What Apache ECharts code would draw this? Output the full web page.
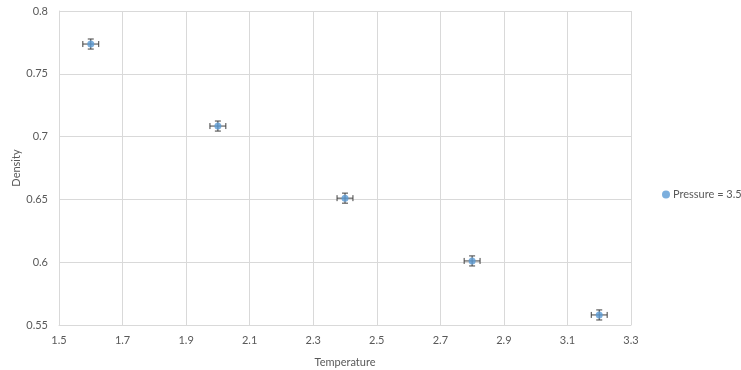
<!DOCTYPE html>
<html><head><meta charset="utf-8">
<script src="https://cdn.jsdelivr.net/npm/echarts@6/dist/echarts.min.js"></script>
<style>html,body{margin:0;padding:0;background:#fff}#c{width:741px;height:370px}</style>
</head><body><div id="c"></div>
<script>
const temperature = [1.6, 2.0, 2.4, 2.8, 3.2];
const density = [0.7737, 0.7084, 0.651, 0.601, 0.558];
const xErr = [0.025, 0.025, 0.025, 0.025, 0.025];
const yErr = [0.004, 0.004, 0.004, 0.004, 0.004];
const seriesName = 'Pressure = 3.5';

const FONT = 'Lato';
const chart = echarts.init(document.getElementById('c'));
const pts = temperature.map((t, i) => [t, density[i], xErr[i], yErr[i]]);
chart.setOption({
  animation: false,
  textStyle: { fontFamily: FONT },
  grid: { left: 59, right: 110, top: 11, bottom: 45, outerBoundsMode: 'none', containLabel: false },
  legend: {
    data: [{ name: seriesName, icon: 'circle' }],
    left: 657, top: 184, orient: 'vertical',
    itemWidth: 8, itemHeight: 8, itemGap: 4,
    textStyle: { fontFamily: FONT, fontSize: 11, color: '#595959', padding: [0, 0, 0, -2] }
  },
  xAxis: {
    type: 'value', min: 1.5, max: 3.3, interval: 0.2,
    name: 'Temperature', nameLocation: 'middle', nameGap: 32, nameMoveOverlap: false,
    nameTextStyle: { fontFamily: FONT, fontSize: 11, color: '#595959' },
    axisLine: { show: true, lineStyle: { color: '#d9d9d9' } },
    axisTick: { show: false },
    axisLabel: { fontFamily: FONT, fontSize: 11, color: '#595959', margin: 10,
      formatter: v => (+v.toFixed(1)).toString() },
    splitLine: { show: true, lineStyle: { color: '#d9d9d9' } }
  },
  yAxis: {
    type: 'value', min: 0.55, max: 0.8, interval: 0.05,
    name: 'Density', nameLocation: 'middle', nameGap: 37, nameRotate: 90, nameMoveOverlap: false,
    nameTextStyle: { fontFamily: FONT, fontSize: 11, color: '#595959' },
    axisLine: { show: true, lineStyle: { color: '#d9d9d9' } },
    axisTick: { show: false },
    axisLabel: { fontFamily: FONT, fontSize: 11, color: '#595959', margin: 11,
      formatter: v => (+v.toFixed(2)).toString() },
    splitLine: { show: true, lineStyle: { color: '#d9d9d9' } }
  },
  series: [
    {
      type: 'custom', name: 'err', data: pts, z: 3, silent: true,
      renderItem: function (params, api) {
        const x = api.value(0), y = api.value(1), ex = api.value(2), ey = api.value(3);
        const l = api.coord([x - ex, y]), r = api.coord([x + ex, y]);
        const t = api.coord([x, y + ey]), b = api.coord([x, y - ey]);
        const cap = 3;
        const st = { stroke: '#404040', lineWidth: 1 };
        return { type: 'group', children: [
          { type: 'line', shape: { x1: l[0], y1: l[1], x2: r[0], y2: r[1] }, style: st },
          { type: 'line', shape: { x1: l[0], y1: l[1] - cap, x2: l[0], y2: l[1] + cap }, style: st },
          { type: 'line', shape: { x1: r[0], y1: r[1] - cap, x2: r[0], y2: r[1] + cap }, style: st },
          { type: 'line', shape: { x1: t[0], y1: t[1], x2: b[0], y2: b[1] }, style: st },
          { type: 'line', shape: { x1: t[0] - cap, y1: t[1], x2: t[0] + cap, y2: t[1] }, style: st },
          { type: 'line', shape: { x1: b[0] - cap, y1: b[1], x2: b[0] + cap, y2: b[1] }, style: st }
        ]};
      }
    },
    {
      type: 'scatter', name: seriesName, z: 4,
      data: temperature.map((t, i) => [t, density[i]]),
      symbol: 'circle', symbolSize: 7,
      itemStyle: { color: '#5B9BD5' }
    }
  ]
});
</script></body></html>
